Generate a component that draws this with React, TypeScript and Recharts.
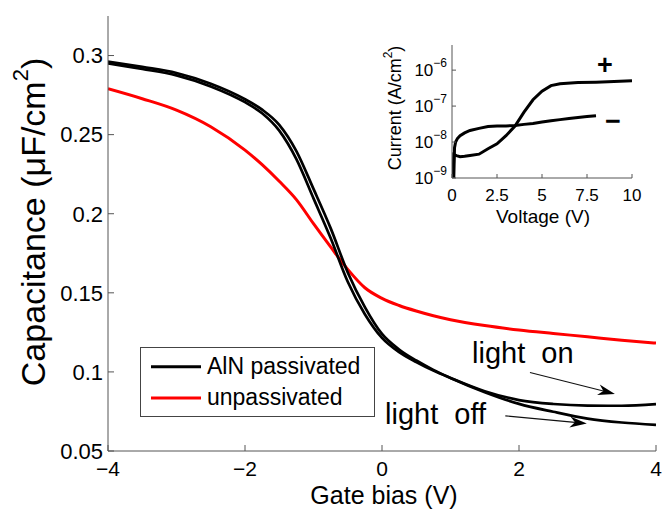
import React from 'react';
import { LineChart, Line, XAxis, YAxis, ReferenceLine, ReferenceDot } from 'recharts';

const FONT = '"Liberation Sans", Arial, Helvetica, sans-serif';

// ---------- main C-V data ----------
const gateBias = [-4, -3.5, -3, -2.5, -2, -1.75, -1.5, -1.25, -1, -0.75, -0.5, -0.25, 0, 0.25, 0.5, 0.75, 1, 1.5, 2, 2.5, 3, 3.5, 4];
const alnLightOn = [0.295, 0.2915, 0.2875, 0.2805, 0.2705, 0.2635, 0.2525, 0.2345, 0.2097, 0.1846, 0.157, 0.1365, 0.1215, 0.1125, 0.1062, 0.1008, 0.0962, 0.0878, 0.0822, 0.0797, 0.0787, 0.0786, 0.0796];
const alnLightOff = [0.2962, 0.2928, 0.289, 0.2822, 0.2724, 0.2658, 0.2562, 0.2396, 0.2157, 0.1909, 0.1629, 0.141, 0.124, 0.1142, 0.1072, 0.1013, 0.0962, 0.0872, 0.0798, 0.0748, 0.0705, 0.068, 0.0665];
const unpassivated = [0.279, 0.2727, 0.2655, 0.255, 0.2402, 0.231, 0.2205, 0.2089, 0.1937, 0.179, 0.1648, 0.1532, 0.1465, 0.142, 0.1385, 0.1355, 0.133, 0.1293, 0.1265, 0.1243, 0.1222, 0.12, 0.1182];
const xTicks = [-4, -2, 0, 2, 4];
const yTicks = [0.05, 0.1, 0.15, 0.2, 0.25, 0.3];

// ---------- inset I-V data ----------
const plusV = [0.06, 0.1, 0.25, 0.45, 0.7, 1.0, 1.5, 2.0, 2.5, 3.0, 3.5, 4.0, 4.5, 5.0, 5.5, 6.0, 7.0, 8.0, 9.0, 10];
const plusI = [1e-9, 4.5e-9, 4.2e-9, 3.9e-9, 4.0e-9, 4.2e-9, 4.6e-9, 6.5e-9, 8.9e-9, 1.5e-8, 2.8e-8, 6.8e-8, 1.5e-7, 2.6e-7, 3.7e-7, 4.2e-7, 4.5e-7, 4.6e-7, 4.8e-7, 5.1e-7];
const minusV = [0.1, 0.14, 0.2, 0.3, 0.45, 0.7, 1.0, 1.5, 2.0, 2.5, 3.0, 3.5, 4.0, 4.5, 5.0, 5.5, 6.0, 6.5, 7.0, 7.5, 8.0];
const minusI = [1e-9, 7e-9, 1e-8, 1.25e-8, 1.5e-8, 1.8e-8, 2.1e-8, 2.4e-8, 2.7e-8, 2.8e-8, 2.8e-8, 2.9e-8, 3.1e-8, 3.3e-8, 3.6e-8, 3.9e-8, 4.2e-8, 4.5e-8, 4.8e-8, 5.1e-8, 5.4e-8];
const insetXTicks = [0, 2.5, 5, 7.5, 10];
const insetYTicks = [1e-9, 1e-8, 1e-7, 1e-6];

const mainData = gateBias.map((v, i) => ({ v, on: alnLightOn[i], off: alnLightOff[i], un: unpassivated[i] }));
const plusData = plusV.map((v, i) => ({ v, i: plusI[i] }));
const minusData = minusV.map((v, i) => ({ v, i: minusI[i] }));

const fmtX = (v: number) => (v < 0 ? '\u2212' + Math.abs(v) : String(v));
const blank = () => '';
const AX = '#555';

const Arrow = (p: any) => {
  const { x1, y1, x2, y2 } = p;
  const ang = Math.atan2(y2 - y1, x2 - x1);
  const c = Math.cos(ang), s = Math.sin(ang);
  const L = 17, W = 5.5;
  const bx = x2 - L * c, by = y2 - L * s;
  const nx = x2 - L * 0.7 * c, ny = y2 - L * 0.7 * s;
  const pts = `${x2},${y2} ${bx - s * W},${by + c * W} ${nx},${ny} ${bx + s * W},${by - c * W}`;
  return (
    <g>
      <line x1={x1} y1={y1} x2={nx} y2={ny} stroke="#111" strokeWidth={1.1} />
      <polygon points={pts} fill="#000" />
    </g>
  );
};

const textShape = (txt: string, size: number, anchor: string, bold = false, center = false) => (p: any) => (
  <text x={p.cx} y={p.cy} fontSize={size} fontFamily={FONT} fill="#000" textAnchor={anchor}
    dominantBaseline={center ? 'central' : 'alphabetic'}
    fontWeight={bold ? 'bold' : 'normal'} style={{ whiteSpace: 'pre' }}>{txt}</text>
);

const PowTick = (props: any) => {
  const { x, y, payload } = props;
  const e = Math.round(Math.log10(payload.value));
  return (
    <text x={x} y={y} textAnchor="end" fontSize={17} fontFamily={FONT} fill="#000" dy={6}>
      <tspan>10</tspan>
      <tspan dy={-9} fontSize={12}>{e < 0 ? '\u2212' + -e : String(e)}</tspan>
    </text>
  );
};

const YLabelMain = () => (
  <text x={33} y={222} transform="rotate(-90, 33, 222)" textAnchor="middle" dominantBaseline="central"
    fontSize={34} fontFamily={FONT} fill="#000">
    <tspan>Capacitance (μF/cm</tspan>
    <tspan dy={-13} fontSize={22}>2</tspan>
    <tspan dy={13}>)</tspan>
  </text>
);

const XLabelMain = () => (
  <text x={384} y={503.5} textAnchor="middle" fontSize={25} fontFamily={FONT} fill="#000">Gate bias (V)</text>
);

const YLabelInset = () => (
  <text x={35} y={78} transform="rotate(-90, 35, 78)" textAnchor="middle" dominantBaseline="central"
    fontSize={18} fontFamily={FONT} fill="#000">
    <tspan>Current (A/cm</tspan>
    <tspan dy={-7} fontSize={12}>2</tspan>
    <tspan dy={7}>)</tspan>
  </text>
);

const XLabelInset = () => (
  <text x={183} y={193} textAnchor="middle" fontSize={19} fontFamily={FONT} fill="#000">Voltage (V)</text>
);

const LegendBox = () => (
  <div style={{ position: 'absolute', left: 140, top: 347, width: 235, height: 70 }}>
    <svg width={235} height={70} style={{ display: 'block' }}>
      <rect x={0.5} y={0.5} width={234} height={69} fill="#fff" stroke="#444" strokeWidth={1} />
      <line x1={11} x2={61} y1={19.7} y2={19.7} stroke="#000" strokeWidth={3} />
      <text x={67} y={26.5} fontSize={23} fontFamily={FONT} fill="#000">AlN passivated</text>
      <line x1={11} x2={61} y1={51} y2={51} stroke="#ff0000" strokeWidth={3} />
      <text x={67} y={57.5} fontSize={23} fontFamily={FONT} fill="#000">unpassivated</text>
    </svg>
  </div>
);

export default function App() {
  return (
    <div style={{ position: 'relative', width: 664, height: 509, fontFamily: FONT, background: '#fff' }}>
      <style>{'html,body{margin:0;padding:0;background:#fff;overflow:hidden}'}</style>
      <LineChart width={664} height={509} data={mainData} margin={{ top: 16, right: 8, bottom: 28, left: 48 }}>
        <XAxis xAxisId="b" dataKey="v" type="number" domain={[-4, 4]} ticks={xTicks} interval={0}
          tickFormatter={fmtX} tickSize={-6} tickMargin={16} height={30} stroke={AX}
          tick={{ fill: '#000', fontSize: 21, fontFamily: FONT }} allowDataOverflow
          label={{ content: () => <XLabelMain /> }} />
        <XAxis xAxisId="t" orientation="top" dataKey="v" type="number" domain={[-4, 4]} ticks={xTicks} interval={0}
          tickFormatter={blank} tickSize={-6} height={0} stroke={AX} allowDataOverflow />
        <YAxis yAxisId="l" type="number" domain={[0.05, 0.325]} ticks={yTicks} interval={0}
          tickSize={-6} tickMargin={11} width={60} stroke={AX}
          tick={{ fill: '#000', fontSize: 22, fontFamily: FONT }} allowDataOverflow
          label={{ content: () => <YLabelMain /> }} />
        <YAxis yAxisId="r" orientation="right" type="number" domain={[0.05, 0.325]} ticks={yTicks} interval={0}
          tickFormatter={blank} tickSize={-6} width={0} stroke={AX} allowDataOverflow />
        <Line xAxisId="b" yAxisId="l" dataKey="un" type="monotone" stroke="#ff0000" strokeWidth={3} dot={false} isAnimationActive={false} />
        <Line xAxisId="b" yAxisId="l" dataKey="on" type="monotone" stroke="#000" strokeWidth={2.7} dot={false} isAnimationActive={false} />
        <Line xAxisId="b" yAxisId="l" dataKey="off" type="monotone" stroke="#000" strokeWidth={2.7} dot={false} isAnimationActive={false} />
        <ReferenceLine xAxisId="b" yAxisId="l" segment={[{ x: 2.16, y: 0.0996 }, { x: 3.4, y: 0.0861 }]} shape={Arrow} />
        <ReferenceLine xAxisId="b" yAxisId="l" segment={[{ x: 1.8, y: 0.0722 }, { x: 2.99, y: 0.0674 }]} shape={Arrow} />
        <ReferenceDot xAxisId="b" yAxisId="l" x={1.314} y={0.1055} r={0} shape={textShape('light  on', 29, 'start')} />
        <ReferenceDot xAxisId="b" yAxisId="l" x={0.044} y={0.0671} r={0} shape={textShape('light  off', 29, 'start')} />
      </LineChart>

      <LegendBox />

      <div style={{ position: 'absolute', left: 360, top: 30 }}>
        <LineChart width={290} height={205} margin={{ top: 15, right: 18, bottom: 27, left: 32 }}>
          <XAxis xAxisId="b" dataKey="v" type="number" domain={[0, 10]} ticks={insetXTicks} interval={0}
            tickSize={-4} tickMargin={15} height={30} stroke={AX}
            tick={{ fill: '#000', fontSize: 17, fontFamily: FONT }} allowDataOverflow
            label={{ content: () => <XLabelInset /> }} />
          <XAxis xAxisId="t" orientation="top" dataKey="v" type="number" domain={[0, 10]} ticks={insetXTicks} interval={0}
            tickFormatter={blank} tickSize={-4} height={0} stroke={AX} allowDataOverflow />
          <YAxis yAxisId="l" type="number" scale="log" domain={[1e-9, 5e-6]} ticks={insetYTicks} interval={0}
            tick={<PowTick />} tickSize={-4} tickMargin={9} width={60} stroke={AX} allowDataOverflow
            label={{ content: () => <YLabelInset /> }} />
          <YAxis yAxisId="r" orientation="right" type="number" scale="log" domain={[1e-9, 5e-6]} ticks={insetYTicks} interval={0}
            tickFormatter={blank} tickSize={-4} width={0} stroke={AX} allowDataOverflow />
          <Line xAxisId="b" yAxisId="l" data={plusData} dataKey="i" type="linear" stroke="#000" strokeWidth={3} dot={false} isAnimationActive={false} />
          <Line xAxisId="b" yAxisId="l" data={minusData} dataKey="i" type="linear" stroke="#000" strokeWidth={3} dot={false} isAnimationActive={false} />
          <ReferenceDot xAxisId="b" yAxisId="l" x={8.5} y={1.4e-6} r={0} shape={textShape('+', 27, 'middle', true, true)} />
          <ReferenceDot xAxisId="b" yAxisId="l" x={8.94} y={3.8e-8} r={0} shape={textShape('\u2212', 27, 'middle', true, true)} />
        </LineChart>
      </div>
    </div>
  );
}
